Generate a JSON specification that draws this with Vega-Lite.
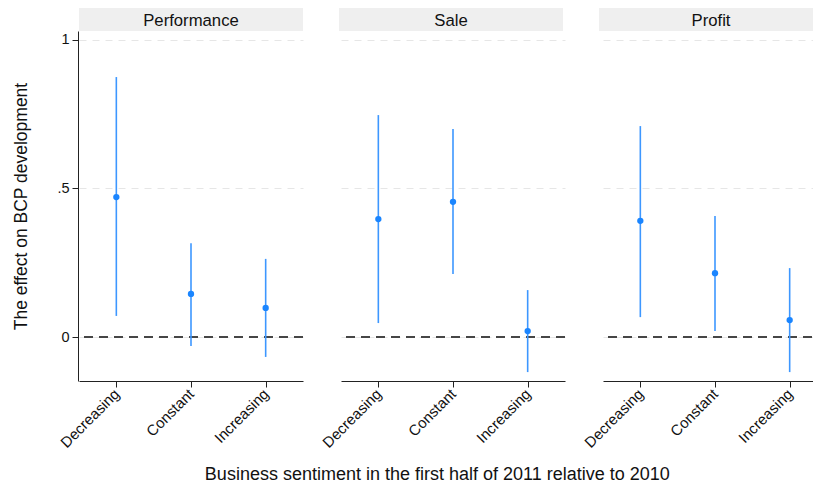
{
  "$schema": "https://vega.github.io/schema/vega-lite/v6.json",
  "background": "white",
  "padding": {"left": 12, "top": 8, "right": 0, "bottom": 5},
  "config": {
    "font": "Liberation Sans",
    "view": {"stroke": null},
    "concat": {"spacing": 0}
  },
  "title": {"text": "Business sentiment in the first half of 2011 relative to 2010", "orient": "bottom", "anchor": "middle", "frame": "bounds", "fontSize": 18, "fontWeight": "normal", "color": "#111", "offset": 16, "dx": 17},
  "data": {
    "values": [
      {"panel": "Performance", "cat": "Decreasing", "est": 0.471, "lo": 0.071, "hi": 0.875},
      {"panel": "Performance", "cat": "Constant", "est": 0.145, "lo": -0.030, "hi": 0.316},
      {"panel": "Performance", "cat": "Increasing", "est": 0.098, "lo": -0.067, "hi": 0.263},
      {"panel": "Sale", "cat": "Decreasing", "est": 0.397, "lo": 0.047, "hi": 0.747},
      {"panel": "Sale", "cat": "Constant", "est": 0.455, "lo": 0.212, "hi": 0.700},
      {"panel": "Sale", "cat": "Increasing", "est": 0.020, "lo": -0.118, "hi": 0.158},
      {"panel": "Profit", "cat": "Decreasing", "est": 0.391, "lo": 0.067, "hi": 0.710},
      {"panel": "Profit", "cat": "Constant", "est": 0.215, "lo": 0.020, "hi": 0.407},
      {"panel": "Profit", "cat": "Increasing", "est": 0.057, "lo": -0.118, "hi": 0.232}
    ]
  },
  "vconcat": [
    {
      "transform": [{"filter": "datum.cat === 'Decreasing'"}],
      "facet": {"column": {"field": "panel", "type": "nominal", "sort": ["Performance", "Sale", "Profit"], "header": null}},
      "spacing": 36,
      "spec": {
        "width": 224,
        "height": 23,
        "view": {"fill": "#efefef", "stroke": null},
        "mark": {"type": "text", "fontSize": 16.7, "color": "#111", "baseline": "middle", "align": "center", "dy": 1},
        "encoding": {"text": {"field": "panel", "type": "nominal"}}
      }
    },
    {
      "facet": {
        "column": {
          "field": "panel", "type": "nominal", "sort": ["Performance", "Sale", "Profit"],
          "header": null
        }
      },
      "spacing": 36,
      "spec": {
        "width": 224,
        "height": 350,
        "layer": [
          {
            "mark": {"type": "rule", "color": "#444", "strokeDash": [9, 6], "strokeWidth": 1.5},
            "encoding": {"y": {"datum": 0, "type": "quantitative"}}
          },
          {
            "mark": {"type": "rule", "color": "#3d97ff", "strokeWidth": 1.6},
            "encoding": {
              "x": {"field": "cat", "type": "ordinal", "sort": ["Decreasing", "Constant", "Increasing"],
                    "scale": {"type": "point", "padding": 0.5},
                    "axis": {"title": null, "labelAngle": -45, "labelAlign": "right", "labelBaseline": "middle", "labelFontSize": 15, "labelColor": "#111", "labelPadding": 4, "tickSize": 6, "tickColor": "#222", "domainColor": "#222", "grid": false}},
              "y": {"field": "lo", "type": "quantitative",
                    "scale": {"domain": [-0.148, 1.03], "nice": false, "zero": false},
                    "axis": {"title": "The effect on BCP development", "titleFontSize": 17.5, "titleFontWeight": "normal", "titleColor": "#111", "titlePadding": 26,
                             "values": [0, 0.5, 1], "labelExpr": "datum.value === 0.5 ? '.5' : format(datum.value, 'd')", "labelFontSize": 14.5, "labelColor": "#111", "labelPadding": 3,
                             "tickSize": 6, "tickColor": "#222", "domainColor": "#222", "grid": true, "gridColor": "#e6e6e6", "gridDash": [7, 6]}},
              "y2": {"field": "hi"}
            }
          },
          {
            "mark": {"type": "point", "filled": true, "size": 40, "opacity": 1, "color": "#1a85ff"},
            "encoding": {
              "x": {"field": "cat", "type": "ordinal", "sort": ["Decreasing", "Constant", "Increasing"]},
              "y": {"field": "est", "type": "quantitative"}
            }
          }
        ]
      }
    }
  ]
}
